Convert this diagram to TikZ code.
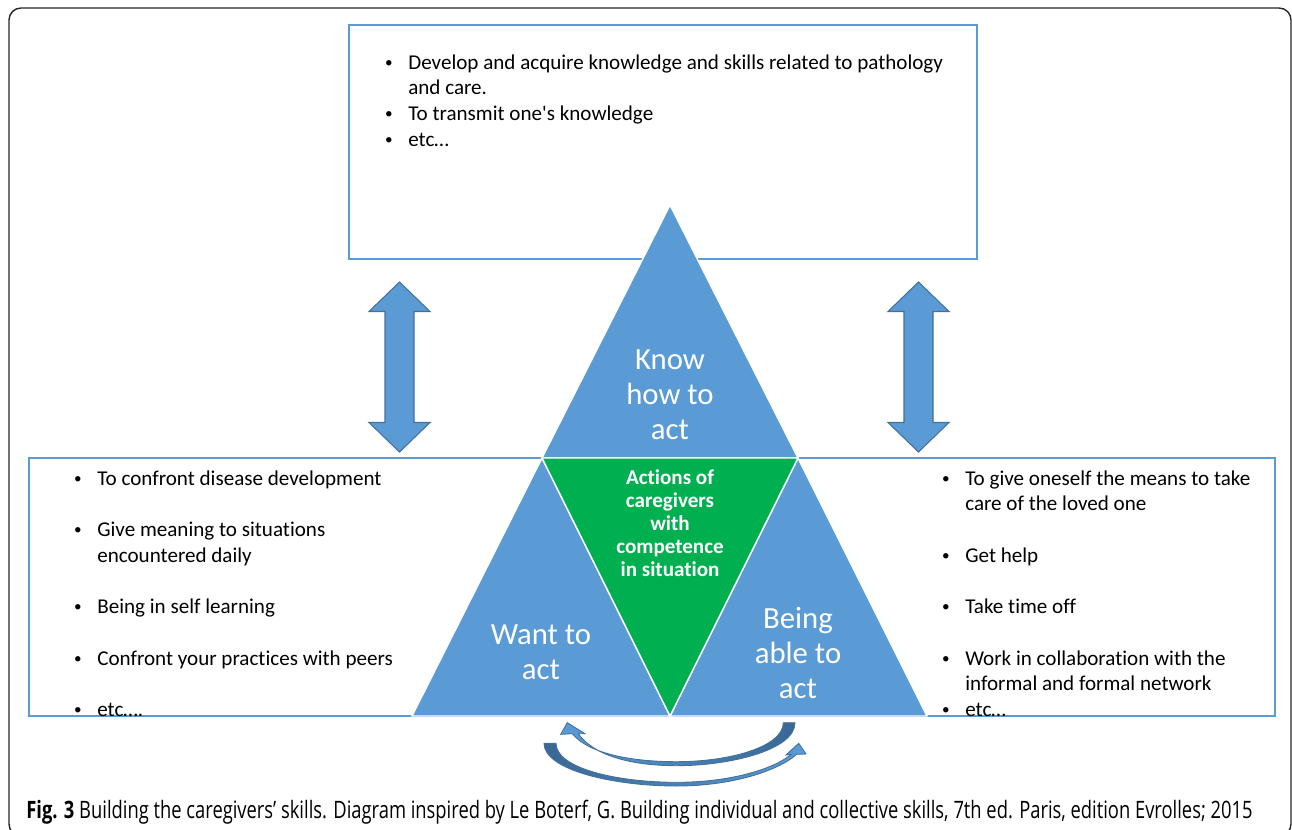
\documentclass[tikz,border=0pt]{standalone}
\usepackage{fontspec}
\usepackage{graphicx}
\setmainfont[Ligatures=NoCommon]{Carlito}
\newfontfamily\capfont[FakeStretch=0.765]{Open Sans}
\usetikzlibrary{positioning}
\definecolor{triblue}{HTML}{5B9BD5}
\definecolor{edgeblue}{HTML}{41719C}
\definecolor{darkblue}{HTML}{3A6794}
\definecolor{midgreen}{HTML}{00B050}
\newcommand{\bitem}[1]{\par\noindent\hangindent=14.2pt\hangafter=1%
  \makebox[14.2pt][l]{\hspace{1pt}\raisebox{0.18ex}{\scalebox{0.72}{\textbullet}}}#1}
\newcommand{\blank}{\par\vspace{\baselineskip}}

\begin{document}
\begin{tikzpicture}[x=0.02cm,y=-0.02cm,
  box/.style={draw=triblue,line width=0.8pt},
  tri/.style={fill=triblue,draw=white,line width=0.8pt},
  listtext/.style={anchor=base west,inner sep=0pt,font=\fontsize{12}{14.65}\selectfont},
  bigtext/.style={text=white,align=center,inner sep=0pt,font=\fontsize{17.5}{19.8}\selectfont},
  greentext/.style={text=white,align=center,inner sep=0pt,font=\fontsize{12}{13.1}\selectfont\bfseries},
  blockarrow/.style={fill=triblue,draw=edgeblue,line width=0.6pt,line join=miter}]
\useasboundingbox (0,0) rectangle (1292,829);
\clip (0,0) rectangle (1292,829);
\draw[line width=0.8pt,rounded corners=6.8pt,black!85] (9,8) rectangle (1291,836);

% boxes
\draw[box] (349,25) rectangle (977,259);
\draw[box] (29,458) rectangle (680,716);
\draw[box] (660,458) rectangle (1275,716);

% triangles
\coordinate (top) at (670,205);
\coordinate (ml) at (542,458);
\coordinate (mr) at (798,458);
\coordinate (bl) at (412,716);
\coordinate (bm) at (670,716);
\coordinate (br) at (927,716);
\filldraw[tri] (top)--(ml)--(mr)--cycle;
\filldraw[tri] (ml)--(bl)--(bm)--cycle;
\filldraw[tri] (mr)--(bm)--(br)--cycle;
\filldraw[tri,fill=midgreen] (ml)--(mr)--(bm)--cycle;

% double arrows
\foreach \cx in {399.5,918.5}
  \filldraw[blockarrow] (\cx,282) -- (\cx+30.5,311.5) -- (\cx+14.5,311.5) -- (\cx+14.5,422.5)
    -- (\cx+30.5,422.5) -- (\cx,452) -- (\cx-30.5,422.5) -- (\cx-14.5,422.5)
    -- (\cx-14.5,311.5) -- (\cx-30.5,311.5) -- cycle;

% curved arrows
\draw[edgeblue,line width=0.5pt,left color=triblue,right color=darkblue]
  (795,722.7) .. controls (795,750) and (730,765.7) .. (676.7,765.7)
  .. controls (630,765.7) and (593.3,755) .. (578.3,733.7)
  -- (585,733.7) -- (567.3,722.7) -- (560.7,734.3) -- (572.3,733.7)
  .. controls (588.3,753.3) and (630,761.7) .. (676.7,761.7)
  .. controls (730,761.7) and (783.3,746.7) .. (783.3,722.7) -- cycle;
\draw[edgeblue,line width=0.5pt,left color=darkblue,right color=triblue]
  (544,743.3) .. controls (544,770) and (613.3,786) .. (676.7,786)
  .. controls (730,786) and (776.7,771.7) .. (796.7,754.3)
  -- (806,754) -- (798.7,743.3) -- (786,755) -- (791.3,754.3)
  .. controls (773.3,769.3) and (730,782.3) .. (676.7,782.3)
  .. controls (616.7,782.3) and (556,768.3) .. (556,743.3) -- cycle;

% labels
\node[bigtext] (know) at (670,395) {Know\\how to\\act};
\node[bigtext] (want) at (541,652) {Want to\\act};
\node[bigtext] (able) at (798,653) {Being\\able to\\act};
\node[greentext] (actions) at (670,523) {Actions of\\caregivers\\with\\competence\\in situation};

\node[listtext] (knowlist) at (383,69) {\parbox[t]{15cm}{\raggedright
  \bitem{Develop and acquire knowledge and skills related to pathology\newline and care.}
  \bitem{To transmit one\textquotesingle s knowledge}
  \bitem{etc…}}};
\node[listtext] (wantlist) at (72,485) {\parbox[t]{10cm}{\raggedright
  \bitem{To confront disease development}\blank
  \bitem{Give meaning to situations\newline encountered daily}\blank
  \bitem{Being in self learning}\blank
  \bitem{Confront your practices with peers}\blank
  \bitem{etc….}}};
\node[listtext] (ablelist) at (940,485) {\parbox[t]{10cm}{\raggedright
  \bitem{To give oneself the means to take\newline care of the loved one}\blank
  \bitem{Get help}\blank
  \bitem{Take time off}\blank
  \bitem{Work in collaboration with the\newline informal and formal network}
  \bitem{etc…}}};

\node[anchor=base west,inner sep=0pt,font=\capfont\fontsize{13.5}{16}\selectfont] (caption) at (26,818)
  {\resizebox{697.9pt}{!}{\textbf{Fig. 3} Building the caregivers’ skills. Diagram inspired by Le Boterf, G. Building individual and collective skills, 7th ed. Paris, edition Evrolles; 2015}};
\end{tikzpicture}
\end{document}
